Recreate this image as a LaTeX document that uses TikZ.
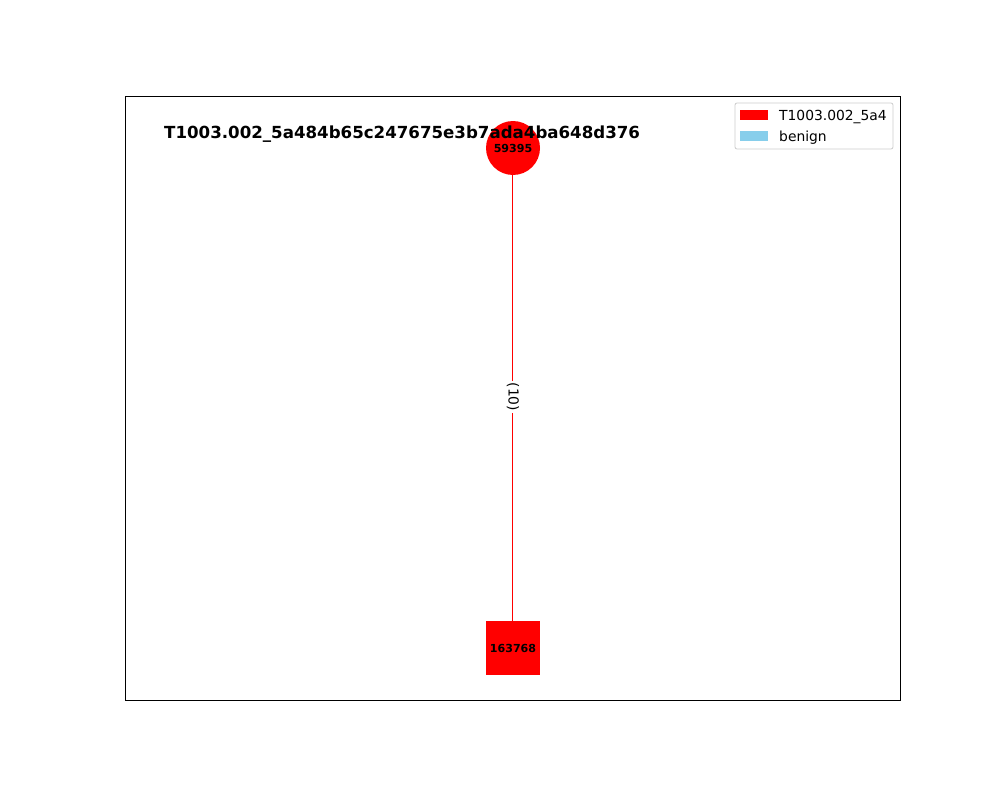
\documentclass[tikz,border=0pt]{standalone}
\usepackage{fontspec}
\setmainfont{DejaVu Sans}
\definecolor{skyblue}{HTML}{87CEEB}
\definecolor{edgered}{RGB}{255,0,0}
\begin{document}
\begin{tikzpicture}[x=1bp,y=-1bp,
  nodefont/.style={font=\fontsize{11.1}{13}\selectfont\bfseries},
  redcircle/.style={circle,fill=red,minimum size=54bp,inner sep=0pt,nodefont},
  redsquare/.style={rectangle,fill=red,minimum size=54bp,inner sep=0pt,nodefont},
  edgeline/.style={color=edgered,line width=1.1bp},
  edgelab/.style={fill=white,text=black,inner sep=2bp,rotate=-90,font=\fontsize{13.9}{16}\selectfont},
  legpatch/.style={rectangle,minimum width=28bp,minimum height=10bp,inner sep=0pt},
  legtext/.style={anchor=west,inner sep=0pt,font=\fontsize{13.9}{16}\selectfont}]
\useasboundingbox (0,0) rectangle (1000,800);
\draw[line width=0.8bp] (125,96) rectangle (900,700);
\node[redsquare] (b) at (513,648) {163768};
\node[redcircle] (a) at (513,148) {59395};
\draw[edgeline] ([xshift=-0.5bp]a.south) -- ([xshift=-0.5bp]b.north);
\node[edgelab] (lab) at (513,397) {(10)};
\node[font=\fontsize{16.7}{20}\selectfont\bfseries,anchor=west,inner sep=0pt] (title) at (164,134) {T1003.002\_5a484b65c247675e3b7ada4ba648d376};
\draw[rounded corners=2bp,draw=black!20,fill=white,line width=0.8bp] (735,103) rectangle (893,149);
\node[legpatch,fill=red] (p1) at (754,115) {};
\node[legpatch,fill=skyblue] (p2) at (754,136) {};
\node[legtext] (t1) at (779,117) {T1003.002\_5a4};
\node[legtext] (t2) at (779,138) {benign};
\end{tikzpicture}
\end{document}
